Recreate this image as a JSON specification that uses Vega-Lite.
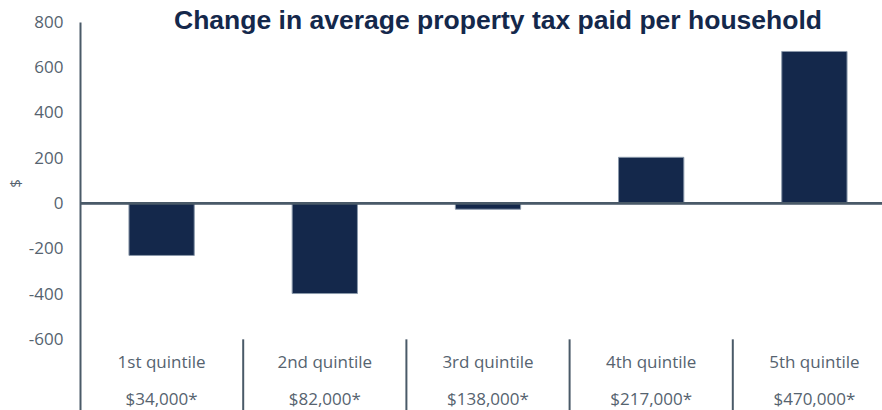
{
  "$schema": "https://vega.github.io/schema/vega-lite/v6.json",
  "width": 802,
  "height": 388,
  "autosize": {"type": "none"},
  "padding": {"left": 80, "top": 22, "right": 0, "bottom": 0},
  "background": "white",
  "config": {"view": {"stroke": null}},
  "title": {
    "text": "Change in average property tax paid per household",
    "font": "Liberation Sans",
    "fontSize": 26.5,
    "fontWeight": "bold",
    "color": "#14284b",
    "anchor": "middle",
    "frame": "group",
    "dx": 17,
    "offset": -21
  },
  "data": {
    "values": [
      {"cat": "1st quintile", "income": "$34,000*", "value": -230},
      {"cat": "2nd quintile", "income": "$82,000*", "value": -398},
      {"cat": "3rd quintile", "income": "$138,000*", "value": -26},
      {"cat": "4th quintile", "income": "$217,000*", "value": 203},
      {"cat": "5th quintile", "income": "$470,000*", "value": 670}
    ]
  },
  "encoding": {
    "x": {
      "field": "cat",
      "type": "nominal",
      "sort": null,
      "scale": {"range": [0, 816], "paddingInner": 0, "paddingOuter": 0},
      "axis": null
    }
  },
  "layer": [
    {
      "mark": {"type": "bar", "color": "#14284b", "stroke": "#8a98aa", "strokeWidth": 1, "width": {"band": 0.4}},
      "encoding": {
        "y": {
          "field": "value",
          "type": "quantitative",
          "scale": {"domain": [-1000, 800], "range": [408, 0], "nice": false, "zero": false},
          "axis": {
            "values": [-600, -400, -200, 0, 200, 400, 600, 800],
            "labelExpr": "replace(datum.label, '−', '-')",
            "grid": false,
            "ticks": false,
            "domainColor": "#4a5a68",
            "domainWidth": 2,
            "labelPadding": 17,
            "labelFontSize": 17,
            "labelFont": "Open Sans",
            "labelColor": "#56636f",
            "labelFlush": false,
            "labelOverlap": false,
            "title": "$",
            "titleFont": "Open Sans",
            "titleFontSize": 15,
            "titleFontWeight": "normal",
            "titleColor": "#56636f",
            "titleX": -57,
            "titleY": 161
          }
        }
      }
    },
    {
      "mark": {"type": "rule", "color": "#4a5a68", "strokeWidth": 2},
      "encoding": {"x": null, "y": {"datum": 0}}
    },
    {
      "transform": [{"filter": "datum.cat != '1st quintile'"}],
      "mark": {"type": "rule", "color": "#4a5a68", "strokeWidth": 2},
      "encoding": {
        "x": {"field": "cat", "type": "nominal", "sort": null, "bandPosition": 0},
        "y": {"datum": -600},
        "y2": {"datum": -1000}
      }
    },
    {
      "mark": {"type": "text", "font": "Open Sans", "fontSize": 17, "color": "#56636f"},
      "encoding": {"y": {"datum": -705}, "text": {"field": "cat"}}
    },
    {
      "mark": {"type": "text", "font": "Open Sans", "fontSize": 17, "color": "#56636f"},
      "encoding": {"y": {"datum": -868}, "text": {"field": "income"}}
    }
  ]
}
